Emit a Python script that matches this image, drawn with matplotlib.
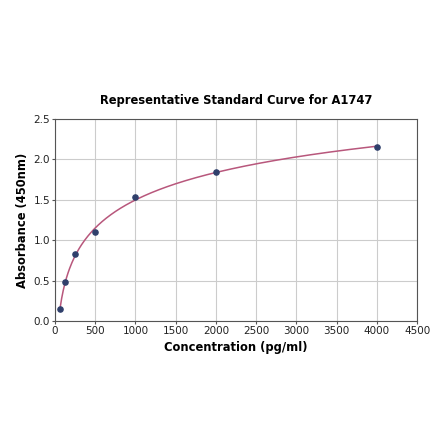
import numpy as np
import matplotlib
matplotlib.use("Agg")
import matplotlib.pyplot as plt

# Standard curve data
conc = [62.5, 125, 250, 500, 1000, 2000, 4000]
absorb = [0.15, 0.48, 0.83, 1.10, 1.53, 1.84, 2.16]

# smooth fit line (cubic in log concentration)
coef = np.polyfit(np.log(conc), absorb, 3)
xs = np.linspace(conc[0], conc[-1], 400)
ys = np.polyval(coef, np.log(xs))

fig = plt.figure(figsize=(4.40, 4.41), dpi=100)
ax = fig.add_axes([0.125, 0.272, 0.823, 0.458])

ax.plot(xs, ys, color="#b8577c", linewidth=1.1, zorder=2)
ax.scatter(conc, absorb, color="#2f3f6b", s=14, zorder=3)

ax.set_xlim(0, 4500)
ax.set_ylim(0, 2.5)
ax.set_xticks(np.arange(0, 4501, 500))
ax.set_yticks(np.arange(0, 2.51, 0.5))
ax.grid(True, color="#cccccc", linewidth=0.8)
ax.set_axisbelow(True)
ax.tick_params(labelsize=7.5, labelcolor="#222222", color="#555555", length=2, pad=1.5)
for s in ax.spines.values():
    s.set_color("#555555")

ax.set_title("Representative Standard Curve for A1747", fontsize=8.3, fontweight="bold", pad=11)
ax.set_xlabel("Concentration (pg/ml)", fontsize=8.3, fontweight="bold", labelpad=4)
ax.set_ylabel("Absorbance (450nm)", fontsize=8.3, fontweight="bold", labelpad=3)

fig.savefig("out.png", dpi=100)
